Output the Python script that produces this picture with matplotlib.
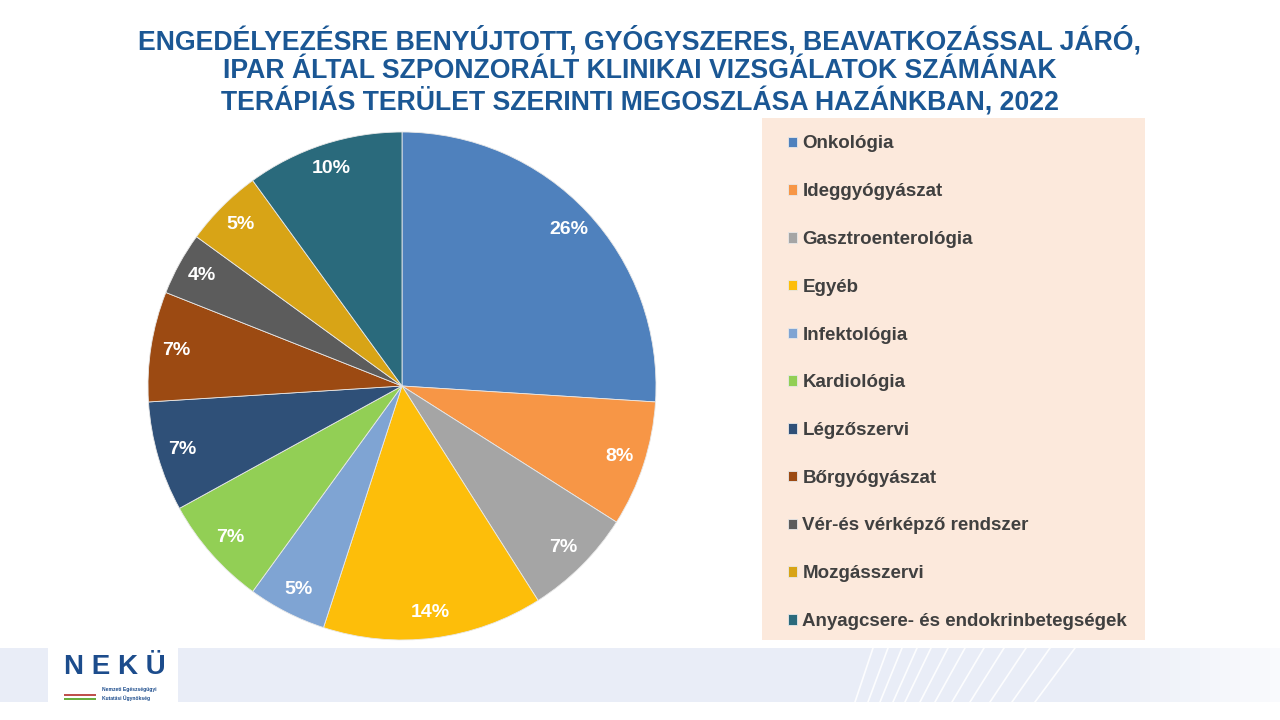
import matplotlib
matplotlib.use("Agg")
import matplotlib.pyplot as plt
from matplotlib.patches import Rectangle
from matplotlib.lines import Line2D

plt.rcParams['font.family'] = ['Liberation Sans', 'DejaVu Sans']

title = ("ENGEDÉLYEZÉSRE BENYÚJTOTT, GYÓGYSZERES, BEAVATKOZÁSSAL JÁRÓ,\n"
         "IPAR ÁLTAL SZPONZORÁLT KLINIKAI VIZSGÁLATOK SZÁMÁNAK\n"
         "TERÁPIÁS TERÜLET SZERINTI MEGOSZLÁSA HAZÁNKBAN, 2022")

categories = ["Onkológia", "Ideggyógyászat", "Gasztroenterológia", "Egyéb",
              "Infektológia", "Kardiológia", "Légzőszervi", "Bőrgyógyászat",
              "Vér-és vérképző rendszer", "Mozgásszervi",
              "Anyagcsere- és endokrinbetegségek"]
shares = [26, 8, 7, 14, 5, 7, 7, 7, 4, 5, 10]
colors = ["#4F81BD", "#F79646", "#A5A5A5", "#FDBE0A", "#7FA4D3", "#92CF55",
          "#2F5078", "#9C4A12", "#5C5C5C", "#D8A416", "#2A6A7C"]

W, H = 1280, 720
fig = plt.figure(figsize=(12.8, 7.2), dpi=100)
fig.patch.set_facecolor("white")

# title
fig.text(640 / W, 1 - 71 / H, title, ha="center", va="center",
         fontsize=19.2, fontweight="bold", color="#1B5794", linespacing=1.13)

# bottom band
fig.patches.append(Rectangle((0, 1 - 702 / H), 1, 54 / H, transform=fig.transFigure,
                             facecolor="#E9EDF7", edgecolor="none", zorder=0))
# fade at right
for i in range(20):
    x0 = 1080 + i * 10
    fig.patches.append(Rectangle((x0 / W, 1 - 702 / H), 10 / W, 54 / H,
                                 transform=fig.transFigure,
                                 facecolor="white", alpha=0.04 * i, edgecolor="none", zorder=0))
# white diagonal stripes
for k, xb in enumerate([855, 868, 880, 893, 905, 920, 935, 952, 970, 990, 1012, 1035]):
    fig.lines.append(Line2D([xb / W, (xb + 18 + k * 2) / W], [1 - 702 / H, 1 - 648 / H],
                            transform=fig.transFigure, color="white", lw=1.2, alpha=0.9))

# logo box
fig.patches.append(Rectangle((48 / W, 1 - 702 / H), 130 / W, 54 / H, transform=fig.transFigure,
                             facecolor="white", edgecolor="none", zorder=1))
fig.text(115 / W, 1 - 667 / H, "N E K Ü", ha="center", va="center", fontsize=20,
         fontweight="bold", color="#1C4C8C", zorder=3,
         family=["Liberation Sans Narrow", "Liberation Sans", "DejaVu Sans"])
fig.text(102 / W, 1 - 690 / H, "Nemzeti Egészségügyi", ha="left", va="center",
         fontsize=3.6, fontweight="bold", color="#1C4C8C", zorder=3)
fig.text(102 / W, 1 - 698 / H, "Kutatási Ügynökség", ha="left", va="center",
         fontsize=3.6, fontweight="bold", color="#1C4C8C", zorder=3)
for c, yy in [("#C0504D", 696), ("white", 698), ("#6AAE3F", 700)]:
    fig.patches.append(Rectangle((64 / W, 1 - yy / H), 32 / W, 1.6 / H, transform=fig.transFigure,
                                 facecolor=c, edgecolor="none", zorder=2))

# legend background
fig.patches.append(Rectangle((762 / W, 1 - 640 / H), 383 / W, 522 / H, transform=fig.transFigure,
                             facecolor="#FCE9DC", edgecolor="none", zorder=0))

# pie
cx, cy, r = 402, 386, 254
ax = fig.add_axes([(cx - r) / W, 1 - (cy + r) / H, 2 * r / W, 2 * r / H])
wedges, texts, autotexts = ax.pie(
    shares, colors=colors, startangle=90, counterclock=False,
    autopct=lambda p: f"{p:.0f}%", pctdistance=0.9,
    wedgeprops=dict(edgecolor="#E8E8E8", linewidth=0.6),
    textprops=dict(color="white", fontsize=14, fontweight="bold"))
ax.set_xlim(-1, 1)
ax.set_ylim(-1, 1)
ax.set_aspect("equal")
ax.axis("off")

leg = fig.legend(wedges, categories, loc="upper left",
                 bbox_to_anchor=(780 / W, 1 - 128 / H), frameon=False,
                 fontsize=13.5, handlelength=0.5, handleheight=0.5,
                 handletextpad=0.3, labelspacing=1.64, borderaxespad=0)
for t in leg.get_texts():
    t.set_fontweight("bold")
    t.set_color("#404040")

fig.savefig("out.png", dpi=100)
